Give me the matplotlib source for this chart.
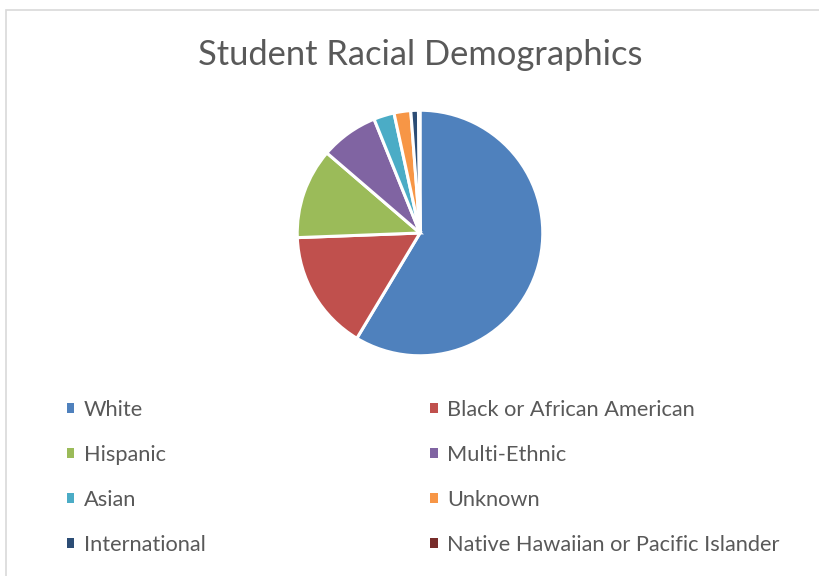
import matplotlib.pyplot as plt
from matplotlib.patches import Rectangle, Patch

# student counts by race, as percent of enrollment
races = ['White', 'Black or African American', 'Hispanic', 'Multi-Ethnic',
         'Asian', 'Unknown', 'International',
         'Native Hawaiian or Pacific Islander']
shares = [58.6, 15.8, 11.9, 7.6, 2.7, 2.2, 1.0, 0.2]
colors = ['#4F81BD', '#C0504D', '#9BBB59', '#8064A2',
          '#4BACC6', '#F79646', '#2C4D75', '#772C2A']

plt.rcParams['font.family'] = ['Lato', 'DejaVu Sans']

W, H = 820, 576
fig = plt.figure(figsize=(W / 100, H / 100), dpi=100)

# thin grey chart-area frame
fig.add_artist(Rectangle((6.5 / W, -0.1), 1.2, 1.1 - 9.5 / H,
                         transform=fig.transFigure, fill=False,
                         edgecolor='#d9d9d9', linewidth=1.2))

cx, cy, r = 420, 233, 124
ax = fig.add_axes([(cx - r) / W, (H - cy - r) / H, 2 * r / W, 2 * r / H])
ax.pie(shares, colors=colors, startangle=90, counterclock=False,
       wedgeprops=dict(edgecolor='white', linewidth=2.2))
ax.set_xlim(-1.01, 1.01)
ax.set_ylim(-1.01, 1.01)
ax.axis('off')

fig.text(cx / W, 1 - 55 / H, 'Student Racial Demographics',
         ha='center', va='center', fontsize=24.8, color='#595959')

# legend filled row by row: reorder for matplotlib's column-major layout
order = [0, 2, 4, 6, 1, 3, 5, 7]
handles = [Patch(facecolor=colors[i], edgecolor='none') for i in order]
labels = [races[i] for i in order]
fig.legend(handles, labels, ncol=2, loc='upper left',
           bbox_to_anchor=(67 / W, 1 - 400 / H), frameon=False,
           borderaxespad=0, borderpad=0,
           fontsize=15.7, labelcolor='#595959',
           handlelength=0.33, handleheight=0.33, handletextpad=0.45,
           labelspacing=1.15, columnspacing=10.3)

fig.savefig('out.png', dpi=100, facecolor='white')
